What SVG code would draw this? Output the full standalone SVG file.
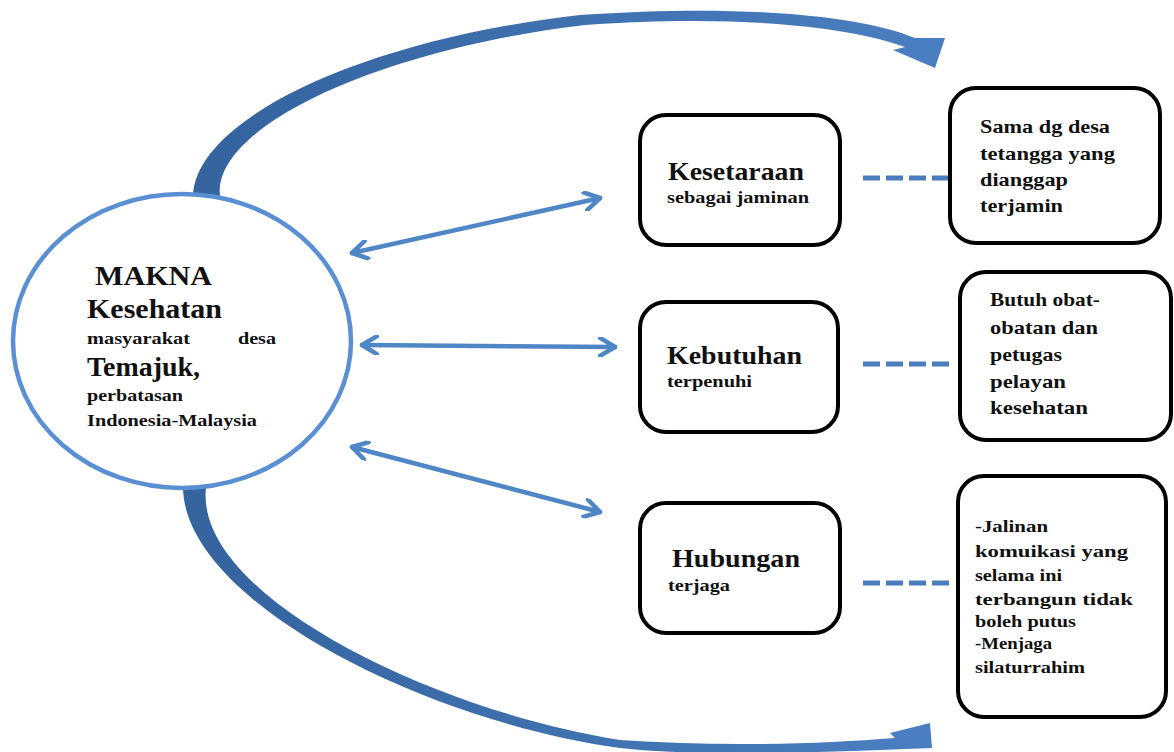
<svg xmlns="http://www.w3.org/2000/svg" width="1174" height="752" viewBox="0 0 1174 752" font-family="'Liberation Serif', 'Times New Roman', serif">
<style>
text{font-family:"Liberation Serif","Times New Roman",serif;font-weight:bold;fill:#111}
.box{fill:#fff;stroke:#000;stroke-width:4}
.dbl{fill:none;stroke:#4f86c6;stroke-width:4.5;stroke-linecap:round}
.dash{fill:none;stroke:#4a7dbd;stroke-width:5;stroke-dasharray:17 6}
.big{fill:url(#g);stroke:none}
</style>
<defs>
<linearGradient id="g" x1="0" y1="0" x2="1" y2="0">
<stop offset="0" stop-color="#34639e"/>
<stop offset="1" stop-color="#4a7fc1"/>
</linearGradient>
<marker id="ah" viewBox="0 0 20 20" refX="17" refY="10" markerWidth="20" markerHeight="20" markerUnits="userSpaceOnUse" orient="auto-start-reverse">
<path d="M2,1 L17,10 L2,19" fill="none" stroke="#4f86c6" stroke-width="4.5" stroke-linecap="round" stroke-linejoin="round"/>
</marker>
</defs>

<g id="connectors">
<path class="big" d="M193,196 C195,120 360,40 580,15 C740,4 860,15 915,38 L945,38 L935,68 L893,50 L905,47 C850,27 740,14 585,25 C375,50 212,128 220,196 Z"/>
<path class="big" d="M183,488 C185,600 420,720 620,748 C700,757 820,752 880,750 L932,748 L930,723 L890,733 L895,738 C820,744 720,747 620,740 C430,710 194,594 206,488 Z"/>
<line class="dbl" x1="352" y1="253" x2="600" y2="198" marker-start="url(#ah)" marker-end="url(#ah)"/>
<line class="dbl" x1="362" y1="345" x2="615" y2="347" marker-start="url(#ah)" marker-end="url(#ah)"/>
<line class="dbl" x1="352" y1="447" x2="600" y2="512" marker-start="url(#ah)" marker-end="url(#ah)"/>
<line class="dash" x1="863" y1="178" x2="950" y2="178"/>
<line class="dash" x1="863" y1="364" x2="950" y2="364"/>
<line class="dash" x1="863" y1="583" x2="950" y2="583"/>
</g>

<g id="makna">
<ellipse cx="182" cy="341" rx="169" ry="147" fill="#fff" stroke="#5b8fd3" stroke-width="4.5"/>
<text x="95" y="285" font-size="27" textLength="117" lengthAdjust="spacingAndGlyphs">MAKNA</text>
<text x="87" y="318" font-size="27" textLength="135" lengthAdjust="spacingAndGlyphs">Kesehatan</text>
<text x="87" y="344" font-size="16" textLength="103" lengthAdjust="spacingAndGlyphs">masyarakat</text>
<text x="238" y="344" font-size="16" textLength="38" lengthAdjust="spacingAndGlyphs">desa</text>
<text x="87" y="376" font-size="27" textLength="113" lengthAdjust="spacingAndGlyphs">Temajuk,</text>
<text x="87" y="401" font-size="16" textLength="96" lengthAdjust="spacingAndGlyphs">perbatasan</text>
<text x="87" y="426" font-size="17" textLength="170" lengthAdjust="spacingAndGlyphs">Indonesia-Malaysia</text>
</g>

<g id="kesetaraan">
<rect class="box" x="640" y="115" width="200" height="130" rx="26"/>
<text x="668" y="180" font-size="25" textLength="136" lengthAdjust="spacingAndGlyphs">Kesetaraan</text>
<text x="667" y="203" font-size="16" textLength="142" lengthAdjust="spacingAndGlyphs">sebagai jaminan</text>
</g>

<g id="kebutuhan">
<rect class="box" x="640" y="302" width="198" height="130" rx="26"/>
<text x="667" y="364" font-size="25" textLength="135" lengthAdjust="spacingAndGlyphs">Kebutuhan</text>
<text x="667" y="387" font-size="16" textLength="85" lengthAdjust="spacingAndGlyphs">terpenuhi</text>
</g>

<g id="hubungan">
<rect class="box" x="640" y="503" width="200" height="130" rx="26"/>
<text x="672" y="567" font-size="25" textLength="128" lengthAdjust="spacingAndGlyphs">Hubungan</text>
<text x="668" y="591" font-size="16" textLength="62" lengthAdjust="spacingAndGlyphs">terjaga</text>
</g>

<g id="desc1">
<rect class="box" x="950" y="88" width="210" height="155" rx="26"/>
<text x="980" y="133" font-size="19" textLength="130" lengthAdjust="spacingAndGlyphs">Sama dg desa</text>
<text x="980" y="160" font-size="19" textLength="135" lengthAdjust="spacingAndGlyphs">tetangga yang</text>
<text x="980" y="186" font-size="19" textLength="88" lengthAdjust="spacingAndGlyphs">dianggap</text>
<text x="980" y="212" font-size="19" textLength="83" lengthAdjust="spacingAndGlyphs">terjamin</text>
</g>

<g id="desc2">
<rect class="box" x="960" y="272" width="211" height="168" rx="26"/>
<text x="990" y="306" font-size="19" textLength="110" lengthAdjust="spacingAndGlyphs">Butuh obat-</text>
<text x="990" y="334" font-size="19" textLength="108" lengthAdjust="spacingAndGlyphs">obatan dan</text>
<text x="990" y="361" font-size="19" textLength="72" lengthAdjust="spacingAndGlyphs">petugas</text>
<text x="990" y="388" font-size="19" textLength="76" lengthAdjust="spacingAndGlyphs">pelayan</text>
<text x="990" y="414" font-size="19" textLength="98" lengthAdjust="spacingAndGlyphs">kesehatan</text>
</g>

<g id="desc3">
<rect class="box" x="958" y="476" width="208" height="241" rx="26"/>
<text x="975" y="532" font-size="17" textLength="73" lengthAdjust="spacingAndGlyphs">-Jalinan</text>
<text x="975" y="557" font-size="17" textLength="153" lengthAdjust="spacingAndGlyphs">komuikasi yang</text>
<text x="975" y="581" font-size="17" textLength="87" lengthAdjust="spacingAndGlyphs">selama ini</text>
<text x="975" y="605" font-size="17" textLength="158" lengthAdjust="spacingAndGlyphs">terbangun tidak</text>
<text x="975" y="627" font-size="17" textLength="101" lengthAdjust="spacingAndGlyphs">boleh putus</text>
<text x="975" y="649" font-size="17" textLength="77" lengthAdjust="spacingAndGlyphs">-Menjaga</text>
<text x="975" y="673" font-size="17" textLength="110" lengthAdjust="spacingAndGlyphs">silaturrahim</text>
</g>
</svg>
